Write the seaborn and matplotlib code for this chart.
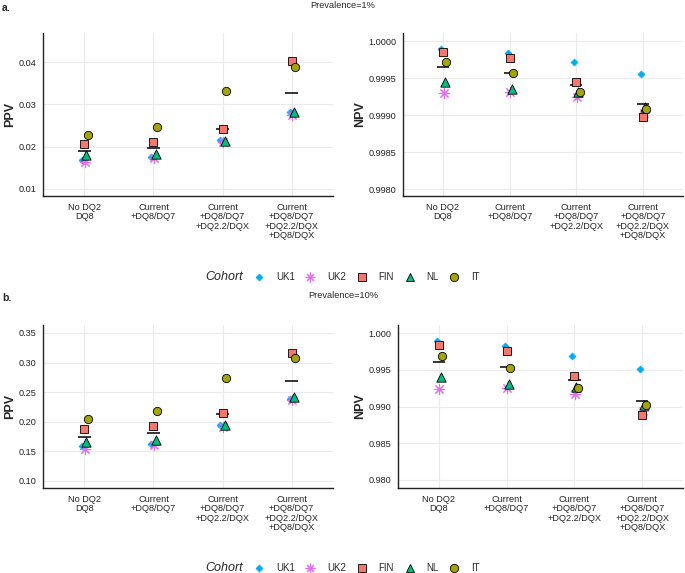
import numpy as np
import pandas as pd
import matplotlib
matplotlib.use("Agg")
import matplotlib.pyplot as plt
from matplotlib.lines import Line2D
import seaborn as sns

categories = ["No DQ2\nDQ8", "Current\n+DQ8/DQ7", "Current\n+DQ8/DQ7\n+DQ2.2/DQX",
              "Current\n+DQ8/DQ7\n+DQ2.2/DQX\n+DQ8/DQX"]
cohorts = ["UK1", "UK2", "FIN", "NL", "IT"]

# values per cohort, one per category
ppv_1 = {
    "UK1": [0.0168, 0.0175, 0.0215, 0.0281],
    "UK2": [0.0164, 0.0172, 0.0210, 0.0276],
    "FIN": [0.0205, 0.0211, 0.0241, 0.0403],
    "NL": [0.0179, 0.0183, 0.0213, 0.0283],
    "IT": [0.0228, 0.0247, 0.0331, 0.0388],
}
npv_1 = {
    "UK1": [0.99990, 0.99984, 0.99972, 0.99955],
    "UK2": [0.99930, 0.99932, 0.99924, 0.99903],
    "FIN": [0.99986, 0.99977, 0.99945, 0.99897],
    "NL": [0.99945, 0.99936, 0.99932, 0.99911],
    "IT": [0.99972, 0.99957, 0.99931, 0.99909],
}
ppv_10 = {
    "UK1": [0.159, 0.163, 0.194, 0.239],
    "UK2": [0.1545, 0.160, 0.191, 0.236],
    "FIN": [0.1876, 0.1921, 0.2141, 0.3168],
    "NL": [0.1656, 0.1696, 0.1938, 0.2426],
    "IT": [0.2051, 0.2186, 0.2738, 0.3077],
}
npv_10 = {
    "UK1": [0.99892, 0.99829, 0.99694, 0.99514],
    "UK2": [0.99243, 0.99248, 0.99176, 0.98932],
    "FIN": [0.99838, 0.99752, 0.99410, 0.98887],
    "NL": [0.99396, 0.99302, 0.99261, 0.99023],
    "IT": [0.99689, 0.99527, 0.99257, 0.99014],
}

colors = {"UK1": "#00B0F6", "UK2": "#E76BF3", "FIN": "#F8766D", "NL": "#00BF7D", "IT": "#A3A500"}
markers = {"UK1": "D", "UK2": (8, 2, 0), "FIN": "s", "NL": "^", "IT": "o"}
sizes = {"UK1": 12, "UK2": 55, "FIN": 30, "NL": 45, "IT": 36}
offsets = {"UK1": -0.03, "UK2": 0.01, "FIN": 0.0, "NL": 0.03, "IT": 0.05}

FS = 6.6


def to_long(d):
    rows = []
    for c in cohorts:
        for i, v in enumerate(d[c]):
            rows.append({"cat": i, "Cohort": c, "value": v})
    return pd.DataFrame(rows)


def draw_panel(ax, d, ylabel, ylim, yticks, fmt, label_x):
    df = to_long(d)
    means = df.groupby("cat")["value"].mean()
    ax.hlines(means.values, means.index - 0.09, means.index + 0.09,
              color="black", lw=1.1, zorder=2)
    for c in cohorts:
        sub = df[df.Cohort == c].copy()
        sub["x"] = sub["cat"] + offsets[c]
        if c == "UK2":
            sns.scatterplot(data=sub, x="x", y="value", ax=ax, marker=markers[c],
                            s=sizes[c], color=colors[c], linewidth=0.8, zorder=3,
                            legend=False)
        else:
            sns.scatterplot(data=sub, x="x", y="value", ax=ax, marker=markers[c],
                            s=sizes[c], color=colors[c],
                            edgecolor="black" if c != "UK1" else colors[c],
                            linewidth=0.6, zorder=3, legend=False)
    ax.set_xlim(-0.6, 3.6)
    ax.set_ylim(*ylim)
    ax.set_xticks(range(len(categories)))
    ax.set_xticklabels(categories, fontsize=FS, color="#222222", linespacing=1.05)
    ax.set_yticks(yticks)
    ax.set_yticklabels([fmt.format(t) for t in yticks], fontsize=FS, color="#222222")
    ax.set_xlabel("")
    ax.set_ylabel(ylabel, fontsize=9, fontweight="bold")
    ax.yaxis.set_label_coords(label_x, 0.5)
    ax.grid(True, color="#EBEBEB", lw=0.8)
    ax.set_axisbelow(True)
    for s in ["top", "right"]:
        ax.spines[s].set_visible(False)
    for s in ["left", "bottom"]:
        ax.spines[s].set_color("#222222")
        ax.spines[s].set_linewidth(1.0)
    ax.tick_params(length=3, width=0.8, color="#333333", pad=2)


sns.set_style("white")
plt.rcParams["font.family"] = ["Liberation Sans", "DejaVu Sans"]

W, H = 685, 573
fig = plt.figure(figsize=(W / 100, H / 100), dpi=100)


def box(l, r, t, b):
    return [l / W, 1 - b / H, (r - l) / W, (b - t) / H]


ax1 = fig.add_axes(box(43, 333, 33, 196))
ax2 = fig.add_axes(box(403, 683, 33, 196))
ax3 = fig.add_axes(box(43, 333, 325, 488))
ax4 = fig.add_axes(box(398, 683, 325, 488))

draw_panel(ax1, ppv_1, "PPV", (0.0083, 0.0469), [0.01, 0.02, 0.03, 0.04], "{:.2f}", -0.093)
draw_panel(ax2, npv_1, "NPV", (0.99791, 1.00011), [0.998, 0.9985, 0.999, 0.9995, 1.0], "{:.4f}", -0.132)
draw_panel(ax3, ppv_10, "PPV", (0.088, 0.3635), [0.10, 0.15, 0.20, 0.25, 0.30, 0.35], "{:.2f}", -0.093)
draw_panel(ax4, npv_10, "NPV", (0.9789, 1.0011), [0.980, 0.985, 0.990, 0.995, 1.000], "{:.3f}", -0.112)

fig.text(2 / W, 1 - 8 / H, "a.", fontsize=7.5, fontweight="bold", va="center")
fig.text(343 / W, 1 - 6 / H, "Prevalence=1%", fontsize=FS, ha="center", va="center")
fig.text(2 / W, 1 - 298 / H, "b.", fontsize=7.5, fontweight="bold", va="center")
fig.text(343 / W, 1 - 296 / H, "Prevalence=10%", fontsize=FS, ha="center", va="center")

handles = []
for c in cohorts:
    if c == "UK2":
        h = Line2D([], [], marker=markers[c], ls="", color=colors[c], markersize=7, mew=0.8)
    else:
        h = Line2D([], [], marker=markers[c], ls="", markerfacecolor=colors[c],
                   markeredgecolor="black" if c != "UK1" else colors[c],
                   markersize=3.5 if c == "UK1" else 6, mew=0.6)
    handles.append(h)

for ly in (277, 568):
    fig.text(243 / W, 1 - ly / H, "Cohort", fontsize=9, style="italic", ha="right", va="center")
    fig.legend(handles, cohorts, loc="center left", bbox_to_anchor=(253 / W, 1 - ly / H),
               ncol=5, frameon=False, fontsize=7, handletextpad=1.15, columnspacing=1.0,
               handlelength=1.2, borderpad=0, borderaxespad=0)

fig.savefig("out.png", dpi=100)
